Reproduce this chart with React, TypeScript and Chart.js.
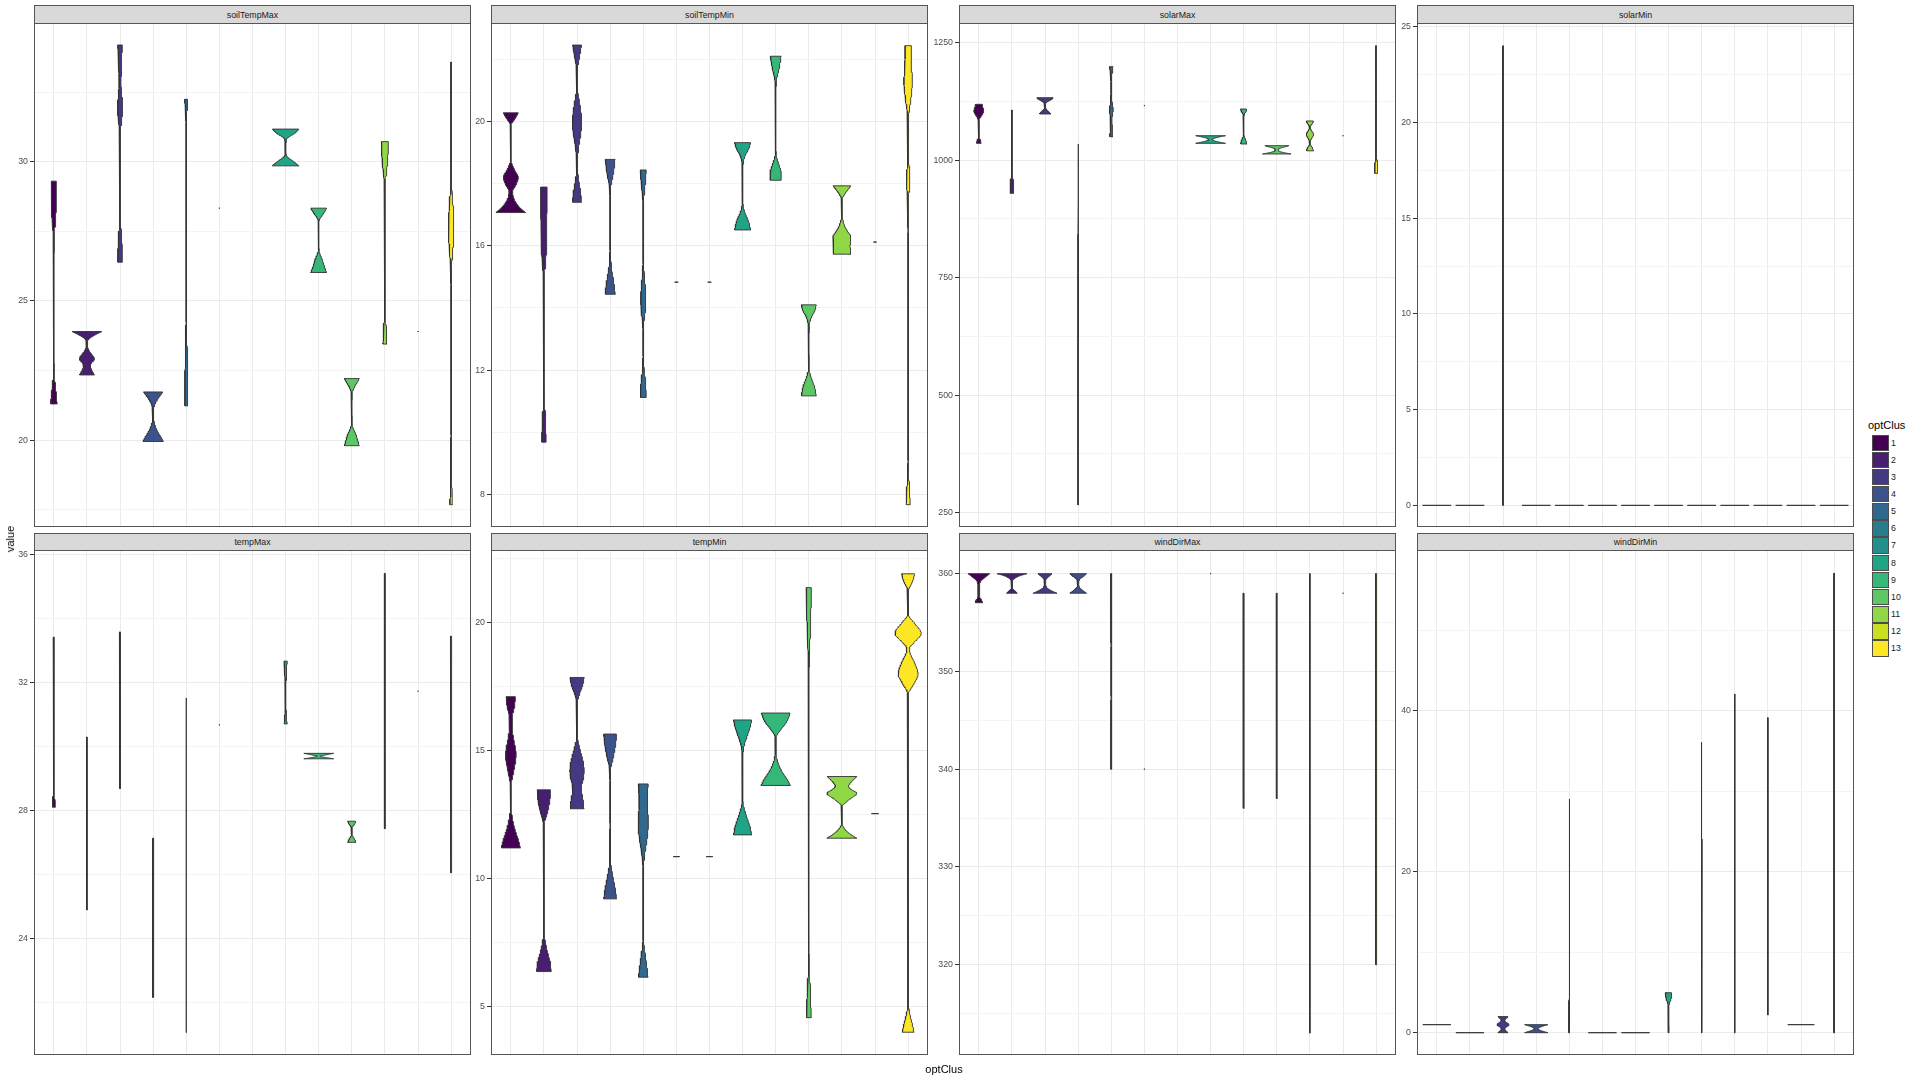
import React, { useEffect, useRef } from 'react';
import { Chart, registerables } from 'chart.js';

Chart.register(...registerables);

type Knot = [number, number]; // [value, width in hundredths of a category]
type Violin = Knot[];

const clusters = ['1', '2', '3', '4', '5', '6', '7', '8', '9', '10', '11', '12', '13'];
const viridis = ['#440154', '#481F70', '#443A83', '#3B528B', '#31688E', '#287C8E', '#21908C', '#20A486', '#35B779', '#5DC863', '#8FD744', '#C8E020', '#FDE725'];
const panelNames = ['soilTempMax', 'soilTempMin', 'solarMax', 'solarMin', 'tempMax', 'tempMin', 'windDirMax', 'windDirMin'];

const soilTempMax: Violin[] = [
  [[21.3, 20], [21.8, 12], [22.4, 2.2], [22.9, 0.8], [26.5, 0.8], [27.2, 1.5], [27.8, 9], [28.3, 14], [28.8, 15], [29.3, 15]],
  [[22.34, 45], [22.5, 30], [22.67, 20], [22.75, 25], [22.91, 45], [23.2, 15], [23.35, 4], [23.54, 3], [23.65, 15], [23.75, 40], [23.83, 65], [23.9, 90]],
  [[26.39, 14], [26.83, 13], [27.4, 8], [28.03, 1.5], [28.63, 1], [29.82, 1], [31.02, 1.5], [31.5, 10], [31.97, 16], [32.4, 10], [32.81, 5], [33.41, 8], [34.19, 14]],
  [[19.95, 62], [20.1, 48], [20.37, 22], [20.6, 8], [20.8, 2.2], [21.03, 1.5], [21.25, 8], [21.45, 25], [21.6, 42], [21.73, 58]],
  [[21.23, 9], [22.5, 8], [23.7, 3], [25, 0.8], [29, 0.6], [31, 0.8], [31.8, 4], [32.24, 10]],
  [[28.33, 3]],
  [[28.33, 3]],
  [[29.85, 80], [30.0, 50], [30.18, 10], [30.3, 2.2], [30.48, 1.5], [30.66, 2.2], [30.84, 10], [31.02, 55], [31.17, 80]],
  [[26.02, 48], [26.2, 36], [26.47, 22], [26.83, 2.2], [27.3, 1], [27.85, 1.5], [28.05, 18], [28.15, 30], [28.33, 48]],
  [[19.8, 45], [20.0, 35], [20.2, 25], [20.4, 10], [20.61, 1.5], [21.2, 1], [21.63, 1.5], [21.9, 15], [22.05, 30], [22.21, 45]],
  [[23.45, 12], [24.0, 8], [24.6, 1.5], [25.2, 0.8], [28.5, 0.8], [29.2, 3], [29.9, 14], [30.4, 20], [30.72, 21]],
  [[23.9, 3]],
  [[17.68, 8], [18.5, 4], [19.3, 1.5], [20.5, 0.8], [25.5, 0.8], [26.2, 3], [27.0, 12], [27.55, 17], [28.3, 12], [29.2, 3], [30.1, 1], [33.58, 1]],
];

const soilTempMin: Violin[] = [
  [[17.07, 90], [17.2, 60], [17.4, 30], [17.6, 14], [17.74, 10], [17.95, 30], [18.2, 45], [18.45, 22], [18.76, 2.2], [19.5, 1], [19.89, 2.2], [20.05, 20], [20.17, 34], [20.28, 45]],
  [[9.68, 13], [10.0, 12], [10.51, 8], [11.15, 1.5], [11.8, 0.8], [14.3, 0.8], [14.9, 1.5], [15.44, 10], [16.51, 17], [17.89, 19]],
  [[17.4, 27], [17.7, 22], [18.1, 10], [18.6, 1.5], [19.2, 10], [19.6, 22], [20.0, 28], [20.5, 18], [21.0, 4], [21.6, 1.5], [22.0, 12], [22.46, 27]],
  [[14.44, 31], [14.8, 22], [15.3, 8], [15.9, 1], [17.5, 1], [17.9, 4], [18.3, 18], [18.78, 30]],
  [[11.12, 18], [11.5, 15], [12.1, 4], [12.8, 1], [13.4, 2.2], [14.0, 13], [14.4, 15], [14.9, 8], [15.6, 1], [17.3, 1], [17.8, 8], [18.2, 15], [18.44, 18]],
  [[14.83, 11]],
  [[14.83, 11]],
  [[16.51, 49], [16.8, 35], [17.1, 12], [17.4, 1.5], [18.2, 1], [18.6, 2.2], [18.9, 15], [19.1, 35], [19.32, 49]],
  [[18.11, 33], [18.35, 33], [18.6, 20], [18.9, 4], [19.3, 1], [20.8, 1], [21.3, 4], [21.7, 20], [22.1, 33]],
  [[11.17, 45], [11.45, 35], [11.8, 12], [12.1, 1.5], [13.0, 1], [13.4, 2.2], [13.7, 15], [13.9, 35], [14.1, 45]],
  [[15.73, 54], [15.85, 52], [15.98, 48], [16.12, 52], [16.28, 54], [16.45, 36], [16.62, 18], [16.9, 4], [17.2, 1.5], [17.48, 1.5], [17.65, 15], [17.8, 35], [17.93, 54]],
  [[16.12, 10]],
  [[7.67, 13], [8.2, 8], [8.8, 1], [10, 0.6], [15, 0.6], [16.9, 1], [17.6, 4], [18.1, 11], [18.7, 4], [19.5, 1.5], [20.2, 4], [20.8, 18], [21.3, 26], [21.8, 20], [22.44, 18]],
];

const solarMax: Violin[] = [
  [[1035.9, 14], [1042, 10], [1050, 1.5], [1075, 1], [1090, 8], [1098, 22], [1105, 30], [1112, 24], [1118.9, 19]],
  [[929.6, 11], [950, 9], [975, 2.2], [1000, 1], [1106.8, 1.5]],
  [[1098.3, 35], [1103, 22], [1108, 8], [1115, 2.2], [1121, 4], [1126, 22], [1130, 42], [1133, 49]],
  [[266.4, 1.5], [1034.5, 1]],
  [[1050, 10], [1070, 5], [1090, 4], [1107, 12], [1125, 4], [1150, 1.5], [1175, 2.2], [1199, 11]],
  [[1116, 3]],
  [[1116, 3]],
  [[1035.9, 90], [1038, 60], [1041, 25], [1044, 12], [1047, 25], [1050, 60], [1052.1, 90]],
  [[1034.5, 19], [1042, 13], [1052, 2.2], [1060, 1], [1090, 1], [1098, 4], [1104, 14], [1108.9, 19]],
  [[1013.2, 86], [1016, 45], [1019, 15], [1022, 10], [1025, 15], [1028, 45], [1030.9, 72]],
  [[1020, 22], [1027, 14], [1033, 3], [1039, 1.5], [1046, 10], [1055, 22], [1063, 10], [1070, 1.5], [1076, 10], [1080, 18], [1083.4, 22]],
  [[1052, 3]],
  [[972, 9], [990, 8], [1010, 3], [1030, 1.5], [1100, 1], [1200, 1], [1243.6, 2.2]],
];

const solarMin: Violin[] = [
  [[0, 86]],
  [[0, 86]],
  [[0, 3], [1, 1.5], [24, 1.5]],
  [[0, 86]],
  [[0, 86]],
  [[0, 86]],
  [[0, 86]],
  [[0, 86]],
  [[0, 86]],
  [[0, 86]],
  [[0, 86]],
  [[0, 86]],
  [[0, 86]],
];

const tempMax: Violin[] = [
  [[28.11, 10], [28.6, 4], [29.5, 1.5], [31, 1], [32.5, 1.5], [33.42, 4]],
  [[24.9, 3], [27, 1.5], [30.3, 2.2]],
  [[28.69, 4], [30, 2.2], [32, 1.5], [33.58, 4]],
  [[22.17, 4], [24, 2.2], [27.14, 3]],
  [[21.07, 1.5], [25, 1], [31.52, 1.5]],
  [[30.68, 3]],
  [[30.68, 3]],
  [[30.71, 10], [31.0, 4], [31.4, 1], [31.9, 1.5], [32.3, 5], [32.67, 10]],
  [[29.62, 90], [29.66, 40], [29.7, 10], [29.74, 40], [29.79, 90]],
  [[27.01, 25], [27.12, 15], [27.25, 2.2], [27.36, 1.5], [27.47, 3], [27.57, 15], [27.67, 25]],
  [[27.44, 4], [30, 3], [33, 2.2], [35.41, 3]],
  [[31.73, 3]],
  [[26.06, 2.2], [29, 2.2], [31, 3], [33.45, 4]],
];

const tempMin: Violin[] = [
  [[11.18, 58], [11.5, 45], [11.9, 25], [12.4, 8], [12.9, 1.5], [13.6, 2.2], [14.2, 18], [14.82, 32], [15.4, 18], [15.9, 8], [16.3, 9], [16.7, 22], [17.09, 28]],
  [[6.35, 44], [6.7, 38], [7.2, 18], [7.8, 3], [8.5, 1], [11.6, 1], [12.1, 3], [12.6, 22], [13.0, 35], [13.45, 40]],
  [[12.71, 42], [13.1, 35], [13.5, 25], [13.9, 38], [14.2, 43], [14.6, 35], [15.1, 15], [15.6, 1.5], [16.8, 1.5], [17.2, 15], [17.5, 32], [17.84, 43]],
  [[9.19, 39], [9.6, 30], [10.1, 15], [10.8, 1.5], [13.5, 1], [14.2, 2.2], [14.7, 18], [15.2, 32], [15.63, 39]],
  [[6.13, 29], [6.5, 22], [7.0, 12], [7.6, 1.5], [10.3, 1], [10.9, 8], [11.5, 22], [12.2, 31], [12.9, 24], [13.3, 26], [13.68, 30]],
  [[10.84, 20]],
  [[10.84, 20]],
  [[11.69, 55], [12.0, 45], [12.5, 20], [13.0, 2.2], [14.8, 1.5], [15.2, 10], [15.6, 30], [15.9, 45], [16.18, 55]],
  [[13.62, 89], [13.85, 70], [14.2, 35], [14.6, 10], [15.0, 2.2], [15.5, 3], [15.8, 30], [16.1, 65], [16.45, 87]],
  [[4.55, 15], [5.5, 10], [6.5, 2.2], [7.5, 1], [18, 1], [19.5, 8], [20.5, 13], [21.35, 16]],
  [[11.56, 90], [11.7, 55], [11.9, 20], [12.15, 2.2], [12.5, 1.5], [12.8, 3], [13.05, 40], [13.32, 90], [13.45, 60], [13.58, 40], [13.75, 55], [13.97, 90]],
  [[12.52, 22]],
  [[3.98, 36], [4.3, 25], [4.7, 10], [5.2, 1.5], [6, 1], [16.5, 1], [17.2, 3], [17.6, 35], [17.98, 60], [18.4, 40], [18.8, 12], [18.98, 8], [19.2, 35], [19.57, 79], [19.95, 40], [20.3, 3], [21.0, 1.5], [21.26, 3], [21.5, 20], [21.7, 32], [21.89, 39]],
];

const windDirMax: Violin[] = [
  [[357.03, 23], [357.3, 16], [357.6, 5], [358.5, 4], [359.2, 10], [359.6, 35], [360, 65]],
  [[358, 32], [358.2, 20], [358.5, 4], [359.2, 2.2], [359.5, 15], [359.8, 50], [360, 90]],
  [[358, 72], [358.2, 45], [358.5, 15], [358.9, 4], [359.3, 3], [359.6, 15], [359.85, 32], [360, 42]],
  [[358, 50], [358.25, 30], [358.6, 8], [359, 3], [359.4, 8], [359.7, 30], [360, 50]],
  [[340, 4], [345, 2.2], [350, 1.5], [355, 2.2], [360, 4]],
  [[340, 3]],
  [[340, 3]],
  [[360, 3]],
  [[336, 3], [345, 2], [358, 3]],
  [[337, 3], [348, 2], [358, 3]],
  [[313, 1.5], [360, 1.5]],
  [[358, 3]],
  [[320, 4], [340, 2.2], [360, 3]],
];

const windDirMin: Violin[] = [
  [[1, 85]],
  [[0, 85]],
  [[0, 30], [0.5, 10], [1, 36], [1.5, 10], [2, 30]],
  [[0, 70], [0.3, 25], [0.5, 10], [0.7, 25], [1, 70]],
  [[0, 4], [2, 3], [5, 1.5], [29.03, 1.5]],
  [[0, 85]],
  [[0, 85]],
  [[0, 3], [2, 1.5], [3.3, 1.5], [4.2, 14], [4.97, 20]],
  [[0, 2.2], [36.07, 1.5]],
  [[0, 2.2], [42.07, 1.5]],
  [[2.2, 2.2], [39.13, 1.5]],
  [[1, 80]],
  [[0, 4], [3, 2.2], [10, 1.5], [57.07, 1.5]],
];

const panelViolins: Violin[][] = [soilTempMax, soilTempMin, solarMax, solarMin, tempMax, tempMin, windDirMax, windDirMin];

const yLimits: [number, number][] = [
  [16.88, 34.98], [6.95, 23.17], [219.6, 1291.9], [-1.13, 25.19],
  [20.37, 36.14], [3.09, 22.82], [310.76, 362.42], [-2.77, 59.96],
];
const yMajor: number[][] = [
  [20, 25, 30], [8, 12, 16, 20], [250, 500, 750, 1000, 1250], [0, 5, 10, 15, 20, 25],
  [24, 28, 32, 36], [5, 10, 15, 20], [320, 330, 340, 350, 360], [0, 20, 40],
];
const yMinor: number[][] = [
  [17.5, 22.5, 27.5, 32.5], [10, 14, 18, 22], [375, 625, 875, 1125], [2.5, 7.5, 12.5, 17.5, 22.5],
  [22, 26, 30, 34], [7.5, 12.5, 17.5, 22.5], [315, 325, 335, 345, 355], [10, 30, 50],
];

// layout
const FONT = "'Liberation Sans', Arial, Helvetica, sans-serif";
const AXW = 40;
const PAD = 10;
const panelLefts = [34, 491, 959, 1417];
const panelWidth = 437;
const rowTops = [23, 550];
const rowHeights = [504, 505];
const stripTops = [5, 533];

// monotone cubic (Fritsch-Carlson) sampling of the width profile between the read knots
function smoothProfile(knots: Violin): [number, number][] {
  const n = knots.length;
  const xs = knots.map((k) => k[0]);
  const ys = knots.map((k) => k[1]);
  const dx: number[] = [];
  const m: number[] = [];
  for (let k = 0; k < n - 1; k++) {
    dx.push(xs[k + 1] - xs[k]);
    m.push((ys[k + 1] - ys[k]) / (xs[k + 1] - xs[k]));
  }
  const t: number[] = new Array(n).fill(0);
  t[0] = m[0];
  t[n - 1] = m[n - 2];
  for (let k = 1; k < n - 1; k++) {
    t[k] = m[k - 1] * m[k] <= 0 ? 0 : (m[k - 1] + m[k]) / 2;
  }
  for (let k = 0; k < n - 1; k++) {
    if (m[k] === 0) {
      t[k] = 0;
      t[k + 1] = 0;
      continue;
    }
    const a = t[k] / m[k];
    const b = t[k + 1] / m[k];
    const s = a * a + b * b;
    if (s > 9) {
      const tau = 3 / Math.sqrt(s);
      t[k] = tau * a * m[k];
      t[k + 1] = tau * b * m[k];
    }
  }
  const out: [number, number][] = [];
  const steps = 12;
  for (let k = 0; k < n - 1; k++) {
    const h = dx[k];
    for (let j = 0; j < steps; j++) {
      const u = j / steps;
      const h00 = 2 * u ** 3 - 3 * u ** 2 + 1;
      const h10 = u ** 3 - 2 * u ** 2 + u;
      const h01 = -2 * u ** 3 + 3 * u ** 2;
      const h11 = u ** 3 - u ** 2;
      const w = h00 * ys[k] + h10 * h * t[k] + h01 * ys[k + 1] + h11 * h * t[k + 1];
      out.push([xs[k] + u * h, Math.max(0.3, w)]);
    }
  }
  out.push([xs[n - 1], ys[n - 1]]);
  return out;
}

function violinPolygon(knots: Violin, center: number) {
  if (knots.length === 1) {
    const [v, w] = knots[0];
    return [
      { x: center + w / 200, y: v },
      { x: center - w / 200, y: v },
      { x: center + w / 200, y: v },
    ];
  }
  const prof = smoothProfile(knots);
  const right = prof.map(([v, w]) => ({ x: center + w / 200, y: v }));
  const left = prof.slice().reverse().map(([v, w]) => ({ x: center - w / 200, y: v }));
  return [...right, ...left, right[0]];
}

const borderPlugin = {
  id: 'panelBorder',
  afterDraw(chart: any) {
    const { ctx, chartArea } = chart;
    ctx.save();
    ctx.strokeStyle = '#555555';
    ctx.lineWidth = 1;
    ctx.strokeRect(
      Math.round(chartArea.left) + 0.5,
      Math.round(chartArea.top) + 0.5,
      Math.round(chartArea.right - chartArea.left) - 1,
      Math.round(chartArea.bottom - chartArea.top) - 1
    );
    ctx.restore();
  },
};

function Panel({ index }: { index: number }) {
  const ref = useRef<HTMLCanvasElement>(null);
  const row = index < 4 ? 0 : 1;
  const col = index % 4;
  const cw = AXW + panelWidth + 2;
  const ch = rowHeights[row] + 2 * PAD;
  useEffect(() => {
    if (!ref.current) return;
    const violins = panelViolins[index];
    const major = yMajor[index];
    const minor = yMinor[index];
    const isMajor = (v: number) => major.some((mm) => Math.abs(mm - v) < 1e-9);
    const allTicks = [...major, ...minor].sort((a, b) => a - b);
    const datasets = violins.map((knots, i) => ({
      label: clusters[i],
      data: violinPolygon(knots, i + 1),
      showLine: true,
      fill: 'shape',
      backgroundColor: viridis[i],
      borderColor: '#333333',
      borderWidth: 0.9,
      pointRadius: 0,
      pointHoverRadius: 0,
      tension: 0,
    }));
    const chart = new Chart(ref.current, {
      type: 'scatter',
      data: { datasets: datasets as any },
      options: {
        responsive: false,
        animation: false,
        events: [],
        layout: { padding: { top: PAD, bottom: PAD, left: 0, right: 2 } },
        plugins: { legend: { display: false }, tooltip: { enabled: false } },
        scales: {
          x: {
            type: 'linear',
            min: 0.4,
            max: 13.6,
            afterBuildTicks: (s: any) => {
              s.ticks = clusters.map((_, i) => ({ value: i + 1 }));
            },
            afterFit: (s: any) => {
              s.height = 0;
            },
            ticks: { display: false },
            grid: { color: '#EBEBEB', lineWidth: 1, drawTicks: false },
            border: { display: false },
          },
          y: {
            type: 'linear',
            min: yLimits[index][0],
            max: yLimits[index][1],
            afterBuildTicks: (s: any) => {
              s.ticks = allTicks.map((v) => ({ value: v }));
            },
            afterFit: (s: any) => {
              s.width = AXW;
            },
            ticks: {
              autoSkip: false,
              maxRotation: 0,
              padding: 2,
              color: '#4D4D4D',
              font: { size: 8.8, family: FONT },
              callback: (v: any) => (isMajor(Number(v)) ? String(v) : ''),
            },
            grid: {
              color: (c: any) => (c.tick && isMajor(c.tick.value) ? '#EBEBEB' : '#F4F4F4'),
              lineWidth: 1,
              drawTicks: true,
              tickLength: 4,
              tickColor: (c: any) => (c.tick && isMajor(c.tick.value) ? '#333333' : 'rgba(0,0,0,0)'),
            },
            border: { display: false },
          },
        },
      },
      plugins: [borderPlugin],
    } as any);
    return () => chart.destroy();
  }, [index]);
  return (
    <canvas
      ref={ref}
      width={cw}
      height={ch}
      style={{
        position: 'absolute',
        left: panelLefts[col] - AXW,
        top: rowTops[row] - PAD,
        width: cw,
        height: ch,
      }}
    />
  );
}

function Strip({ index }: { index: number }) {
  const row = index < 4 ? 0 : 1;
  const col = index % 4;
  return (
    <div
      style={{
        position: 'absolute',
        left: panelLefts[col],
        top: stripTops[row],
        width: panelWidth,
        height: rowTops[row] - stripTops[row] + 1,
        boxSizing: 'border-box',
        border: '1px solid #555555',
        background: '#D9D9D9',
        color: '#1A1A1A',
        fontFamily: FONT,
        fontSize: 8.8,
        display: 'flex',
        alignItems: 'center',
        justifyContent: 'center',
      }}
    >
      {panelNames[index]}
    </div>
  );
}

export default function App() {
  return (
    <div
      style={{
        position: 'fixed',
        left: 0,
        top: 0,
        width: 1920,
        height: 1080,
        background: '#FFFFFF',
        overflow: 'hidden',
        fontFamily: FONT,
      }}
    >
      {panelNames.map((_, i) => (
        <Strip key={'s' + i} index={i} />
      ))}
      {panelNames.map((_, i) => (
        <Panel key={'p' + i} index={i} />
      ))}
      <div
        style={{
          position: 'absolute',
          left: 10,
          top: 539,
          transform: 'translate(-50%, -50%) rotate(-90deg)',
          fontSize: 11,
          color: '#000',
          whiteSpace: 'nowrap',
        }}
      >
        value
      </div>
      <div
        style={{
          position: 'absolute',
          left: 944,
          top: 1069,
          transform: 'translate(-50%, -50%)',
          fontSize: 11,
          color: '#000',
          whiteSpace: 'nowrap',
        }}
      >
        optClus
      </div>
      <div style={{ position: 'absolute', left: 1868, top: 419, fontSize: 11, color: '#000', lineHeight: '13px' }}>optClus</div>
      {clusters.map((c, i) => (
        <div key={'l' + i}>
          <div
            style={{
              position: 'absolute',
              left: 1872,
              top: 434.5 + i * 17.15,
              width: 16.5,
              height: 16.5,
              boxSizing: 'border-box',
              border: '1px solid #4D4D4D',
              background: viridis[i],
            }}
          />
          <div
            style={{
              position: 'absolute',
              left: 1891,
              top: 434.5 + i * 17.15,
              height: 17,
              lineHeight: '17px',
              fontSize: 8.8,
              color: '#1A1A1A',
            }}
          >
            {c}
          </div>
        </div>
      ))}
    </div>
  );
}
